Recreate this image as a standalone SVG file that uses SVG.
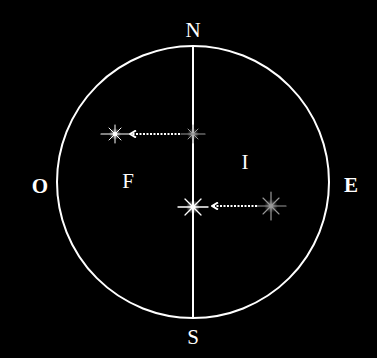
<svg xmlns="http://www.w3.org/2000/svg" width="377" height="358" viewBox="0 0 377 358">
<style>
.t{font-family:"Liberation Serif","Times New Roman",serif;fill:#fff;text-anchor:middle;font-size:21px}
.b{font-weight:bold}
.ray{stroke-linecap:round}
.dot{stroke:#fff;stroke-width:2;stroke-dasharray:2 1.5;fill:none}
</style>
<defs>
<radialGradient id="glow">
<stop offset="0" stop-color="#fff" stop-opacity="1"/>
<stop offset="0.4" stop-color="#fff" stop-opacity="0.5"/>
<stop offset="1" stop-color="#fff" stop-opacity="0"/>
</radialGradient>
<radialGradient id="glowg">
<stop offset="0" stop-color="#ccc" stop-opacity="1"/>
<stop offset="0.4" stop-color="#aaa" stop-opacity="0.5"/>
<stop offset="1" stop-color="#888" stop-opacity="0"/>
</radialGradient>
<marker id="ah" viewBox="0 0 8 8" refX="6" refY="4" markerWidth="4" markerHeight="4" orient="auto">
<path d="M1,0.5 L7,4 L1,7.5" fill="none" stroke="#fff" stroke-width="2"/>
</marker>
</defs>
<rect width="377" height="358" fill="#000"/>
<g id="frame">
<circle cx="193" cy="182" r="136" fill="none" stroke="#fff" stroke-width="2"/>
<line x1="193" y1="46" x2="193" y2="318" stroke="#fff" stroke-width="2"/>
</g>
<g id="labels">
<text class="t" x="193" y="37">N</text>
<text class="t" x="193" y="344">S</text>
<text class="t b" x="40" y="193">O</text>
<text class="t b" x="351" y="192">E</text>
<text class="t" x="128" y="188">F</text>
<text class="t" x="245" y="169">I</text>
</g>
<g id="star-left" class="ray" stroke="#fff">
<circle cx="115" cy="134" r="6" fill="url(#glow)" stroke="none"/>
<line x1="101" y1="134" x2="129" y2="134" stroke-width="1.2"/>
<line x1="115" y1="125" x2="115" y2="143" stroke-width="1"/>
<line x1="109" y1="128" x2="121" y2="140" stroke-width="1"/>
<line x1="109" y1="140" x2="121" y2="128" stroke-width="1"/>
<circle cx="115" cy="134" r="2" fill="#fff" stroke="none"/>
</g>
<g id="star-top" class="ray" stroke="#999">
<circle cx="193" cy="134" r="6" fill="url(#glowg)" stroke="none"/>
<line x1="181" y1="134" x2="205" y2="134" stroke-width="1.2"/>
<line x1="193" y1="125" x2="193" y2="143" stroke-width="1"/>
<line x1="188" y1="129" x2="198" y2="139" stroke-width="1"/>
<line x1="188" y1="139" x2="198" y2="129" stroke-width="1"/>
</g>
<g id="star-center" class="ray" stroke="#fff">
<circle cx="193" cy="207" r="7" fill="url(#glow)" stroke="none"/>
<line x1="178" y1="207" x2="208" y2="207" stroke-width="1.4"/>
<line x1="193" y1="196" x2="193" y2="218" stroke-width="1.2"/>
<line x1="185" y1="199" x2="201" y2="215" stroke-width="1.2"/>
<line x1="185" y1="215" x2="201" y2="199" stroke-width="1.2"/>
<circle cx="193" cy="207" r="2.5" fill="#fff" stroke="none"/>
</g>
<g id="star-right" class="ray" stroke="#999">
<circle cx="271" cy="206" r="7" fill="url(#glowg)" stroke="none"/>
<line x1="256" y1="206" x2="286" y2="206" stroke-width="1.2"/>
<line x1="271" y1="192" x2="271" y2="220" stroke-width="1.2"/>
<line x1="263" y1="198" x2="279" y2="214" stroke-width="1.1"/>
<line x1="263" y1="214" x2="279" y2="198" stroke-width="1.1"/>
</g>
<g id="connectors">
<line class="dot" x1="180" y1="134" x2="131" y2="134" marker-end="url(#ah)"/>
<line class="dot" x1="257" y1="206" x2="213" y2="206" marker-end="url(#ah)"/>
</g>
</svg>
